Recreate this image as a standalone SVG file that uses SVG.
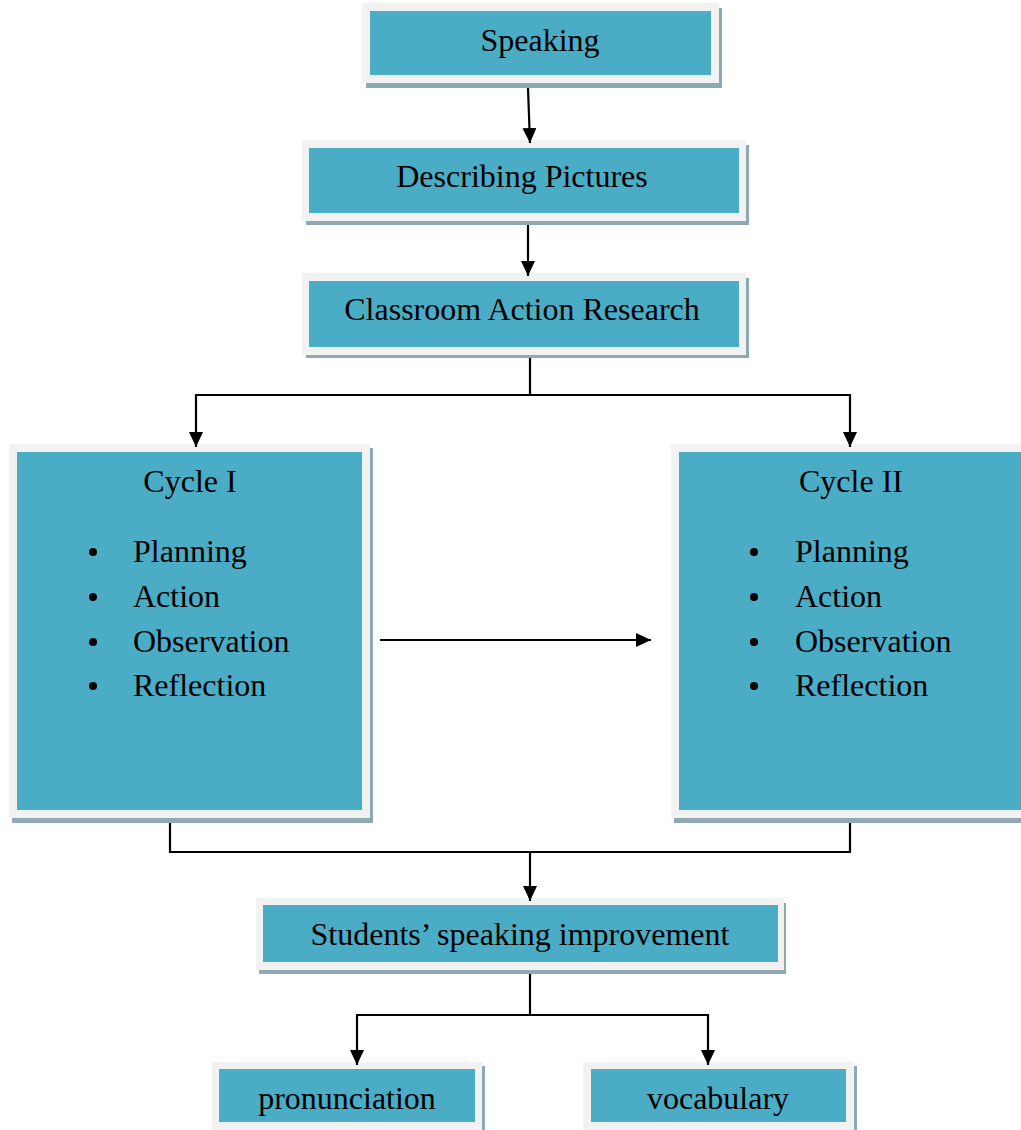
<svg xmlns="http://www.w3.org/2000/svg" width="1021" height="1130" viewBox="0 0 1021 1130">
<style>
.sh{fill:#8fa9b4}
.out{fill:#f2f2f2}
.in{fill:#4bacc6}
text{font-family:"Liberation Serif","Times New Roman",serif;font-size:32px;fill:#000}
.c{text-anchor:middle}
.ln{stroke:#000;stroke-width:2.2;fill:none}
</style>
<defs>
<marker id="ah" markerWidth="15" markerHeight="14" refX="15" refY="7" orient="auto" markerUnits="userSpaceOnUse">
<path d="M0,0 L15,7 L0,14 Z" fill="#000"/>
</marker>
</defs>
<rect width="1021" height="1130" fill="#fff"/>
<g id="speaking">
<rect class="sh" x="366" y="8" width="356" height="80"/>
<rect class="out" x="362" y="3" width="357" height="80"/>
<rect class="in" x="370" y="11" width="341" height="64"/>
<text class="c" x="540" y="51">Speaking</text>
</g>
<g id="describing">
<rect class="sh" x="306" y="145" width="443" height="80"/>
<rect class="out" x="302" y="140" width="444" height="81"/>
<rect class="in" x="309" y="148" width="430" height="65"/>
<text class="c" x="522" y="187">Describing Pictures</text>
</g>
<g id="car">
<rect class="sh" x="306" y="278" width="443" height="80"/>
<rect class="out" x="302" y="273" width="444" height="82"/>
<rect class="in" x="309" y="281" width="430" height="66"/>
<text class="c" x="522" y="320">Classroom Action Research</text>
</g>
<g id="cycle1">
<rect class="sh" x="12" y="448" width="361" height="375"/>
<rect class="out" x="9" y="444" width="361" height="374"/>
<rect class="in" x="17" y="452" width="345" height="358"/>
<text class="c" x="190" y="492">Cycle I</text>
<circle cx="93" cy="552" r="4"/>
<circle cx="93" cy="597" r="4"/>
<circle cx="93" cy="642" r="4"/>
<circle cx="93" cy="686" r="4"/>
<text x="133" y="562">Planning</text>
<text x="133" y="607">Action</text>
<text x="133" y="652">Observation</text>
<text x="133" y="696">Reflection</text>
</g>
<g id="cycle2">
<rect class="sh" x="674" y="448" width="360" height="375"/>
<rect class="out" x="671" y="444" width="360" height="374"/>
<rect class="in" x="679" y="452" width="350" height="358"/>
<text class="c" x="851" y="492">Cycle II</text>
<circle cx="754" cy="552" r="4"/>
<circle cx="754" cy="597" r="4"/>
<circle cx="754" cy="642" r="4"/>
<circle cx="754" cy="686" r="4"/>
<text x="795" y="562">Planning</text>
<text x="795" y="607">Action</text>
<text x="795" y="652">Observation</text>
<text x="795" y="696">Reflection</text>
</g>
<g id="students">
<rect class="sh" x="259" y="903" width="527" height="71"/>
<rect class="out" x="256" y="898" width="528" height="72"/>
<rect class="in" x="263" y="905" width="515" height="57"/>
<text class="c" x="520" y="945">Students’ speaking improvement</text>
</g>
<g id="pronunciation">
<rect class="sh" x="215" y="1066" width="270" height="64"/>
<rect class="out" x="212" y="1062" width="270" height="68"/>
<rect class="in" x="219" y="1069" width="256" height="53"/>
<text class="c" x="347" y="1109">pronunciation</text>
</g>
<g id="vocabulary">
<rect class="sh" x="586" y="1066" width="271" height="64"/>
<rect class="out" x="583" y="1062" width="271" height="68"/>
<rect class="in" x="591" y="1069" width="255" height="53"/>
<text class="c" x="718" y="1109">vocabulary</text>
</g>
<g id="connectors">
<line class="ln" x1="528" y1="88" x2="530" y2="143" marker-end="url(#ah)"/>
<line class="ln" x1="528" y1="225" x2="528" y2="276" marker-end="url(#ah)"/>
<polyline class="ln" points="530,358 530,395 196,395 196,447" marker-end="url(#ah)"/>
<polyline class="ln" points="530,395 850,395 850,447" marker-end="url(#ah)"/>
<line class="ln" x1="380" y1="640" x2="651" y2="640" marker-end="url(#ah)"/>
<polyline class="ln" points="170,823 170,852 850,852 850,823"/>
<line class="ln" x1="530" y1="852" x2="530" y2="901" marker-end="url(#ah)"/>
<line class="ln" x1="530" y1="974" x2="530" y2="1015"/>
<polyline class="ln" points="530,1015 357,1015 357,1065" marker-end="url(#ah)"/>
<polyline class="ln" points="530,1015 708,1015 708,1065" marker-end="url(#ah)"/>
</g>
</svg>
